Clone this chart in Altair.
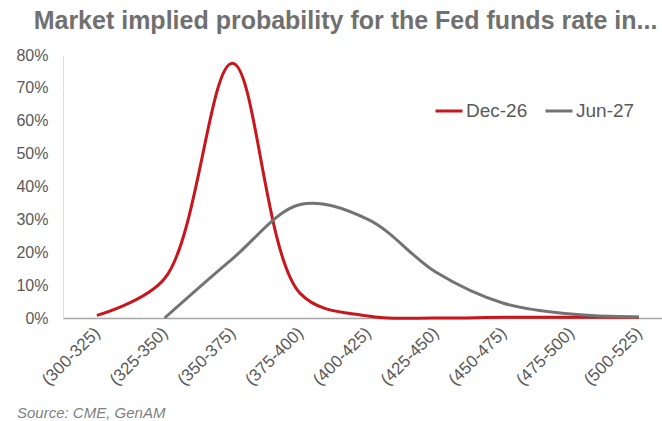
import altair as alt
import pandas as pd

# Fed funds target-range buckets (bp) and market-implied probabilities (%)
categories = ["(300-325)", "(325-350)", "(350-375)", "(375-400)", "(400-425)",
              "(425-450)", "(450-475)", "(475-500)", "(500-525)"]
dec26 = [0.8, 12.0, 77.5, 7.5, 0.6, 0.0, 0.2, 0.2, 0.2]
jun27 = [None, 0.0, 18.0, 34.5, 30.0, 14.0, 4.5, 1.2, 0.3]
series_names = ["Dec-26", "Jun-27"]
series_colors = ["#C8161D", "#737373"]
y_ticks = [0, 10, 20, 30, 40, 50, 60, 70, 80]

title_text = "Market implied probability for the Fed funds rate in..."
source_text = "Source: CME, GenAM"

FONT = "Liberation Sans"

rows = []
for name, values in zip(series_names, [dec26, jun27]):
    for cat, v in zip(categories, values):
        if v is not None:
            rows.append({"bucket": cat, "series": name, "prob": v})
df = pd.DataFrame(rows)

x_enc = alt.X(
    "bucket:N",
    sort=categories,
    scale=alt.Scale(type="point", padding=0.42, align=0.595),
    axis=alt.Axis(
        title=None,
        labelAngle=-45,
        labelAlign="right",
        labelBaseline="middle",
        labelPadding=12,
        labelFontSize=17,
        labelColor="#595959",
        labelFont=FONT,
        ticks=False,
        grid=False,
        domainColor="#A6A6A6",
        domainWidth=1.5,
    ),
)
y_enc = alt.Y(
    "prob:Q",
    scale=alt.Scale(domain=[0, 80], nice=False),
    axis=alt.Axis(
        title=None,
        values=y_ticks,
        labelExpr="datum.value + '%'",
        labelFontSize=16,
        labelColor="#595959",
        labelFont=FONT,
        labelPadding=15,
        ticks=False,
        domain=False,
        gridColor="#FFFFFF",
        gridWidth=1.5,
    ),
)
color_enc = alt.Color(
    "series:N",
    sort=series_names,
    scale=alt.Scale(domain=series_names, range=series_colors),
    legend=alt.Legend(
        title=None,
        orient="none",
        legendX=371,
        legendY=41,
        direction="horizontal",
        symbolType="stroke",
        symbolSize=729,
        symbolStrokeWidth=3,
        labelFontSize=19,
        labelFont=FONT,
        labelColor="#595959",
        labelOffset=2,
        columnPadding=11,
    ),
)

lines = alt.Chart(df).mark_line(
    interpolate="catmull-rom", strokeWidth=3
).encode(x=x_enc, y=y_enc, color=color_enc)

source = alt.Chart(pd.DataFrame({"t": [source_text]})).mark_text(
    align="left", baseline="alphabetic", fontSize=15, fontStyle="italic",
    font=FONT, color="#7F7F7F"
).encode(
    text="t:N",
    x=alt.value(-46),
    y=alt.value(363),
)

chart = alt.layer(lines, source).properties(
    width=599,
    height=263,
    autosize=alt.AutoSizeParams(type="none"),
    padding={"left": 63, "top": 55, "right": 0, "bottom": 103},
    title=alt.TitleParams(
        title_text,
        font=FONT,
        fontSize=25,
        fontWeight="bold",
        color="#707070",
        anchor="middle",
        baseline="alphabetic",
        offset=-7,
        dx=-17,
    ),
).configure_view(
    fill="#F7F7F7",
    stroke=None,
).configure(
    background="#FFFFFF",
)

chart.save("out.html", embed_options={"renderer": "svg", "actions": False})
